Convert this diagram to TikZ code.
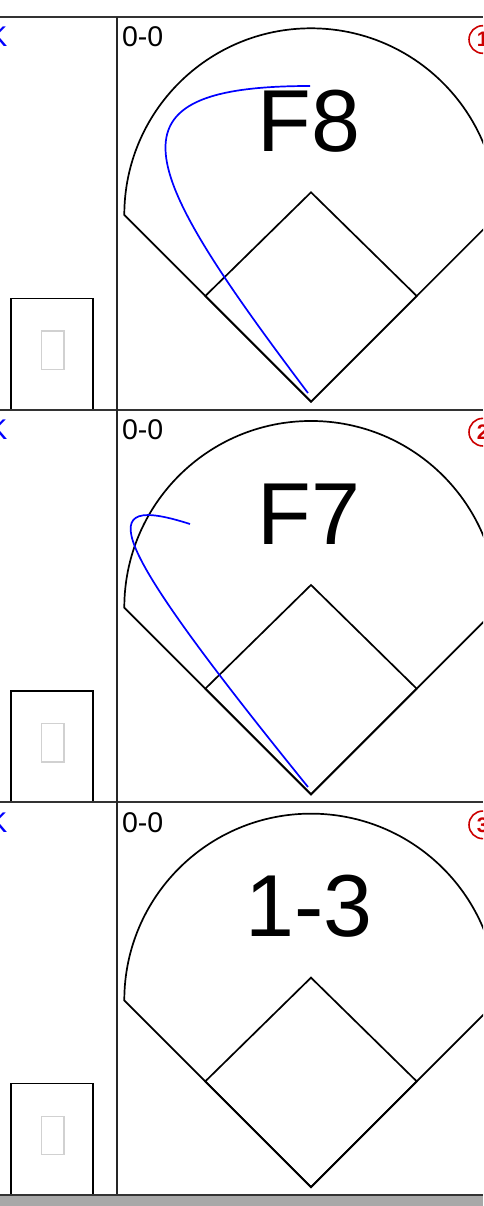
\documentclass[tikz,border=0pt]{standalone}
\usepackage{fontspec}
\setmainfont{Liberation Sans}
\begin{document}
\begin{tikzpicture}[x=1pt,y=-1pt,
  rowline/.style={draw=black!80,line width=2pt},
  sepline/.style={draw=black!85,line width=1.7pt},
  fieldline/.style={draw=black,line width=1.7pt,line join=miter},
  hitpath/.style={draw=blue,line width=1.7pt},
  scoretext/.style={inner sep=0pt,anchor=base west,font=\fontsize{28.5}{30}\selectfont},
  ktext/.style={inner sep=0pt,anchor=base east,text=blue,font=\fontsize{28.5}{30}\selectfont},
  playtext/.style={inner sep=0pt,anchor=base,font=\fontsize{88}{90}\selectfont},
  numcircle/.style={circle,draw=red!80!black,line width=1.6pt,minimum size=27.6pt,inner sep=0pt,
     text=red!80!black,font=\fontsize{21}{22}\selectfont\bfseries},
  cardbox/.style={draw=black,line width=1.6pt},
  tofubox/.style={draw=black!18,line width=1.5pt}]
\useasboundingbox (0,0) rectangle (483,1206);
\clip (0,0) rectangle (483,1206);
\fill[white] (0,0) rectangle (483,1206);

\foreach \i/\play/\num in {0/F8/1,1/F7/2,2/1-3/3}{
  \begin{scope}[shift={(0,17+392.67*\i)}]
    % texts
    \node[ktext] (k\i) at (7.5,30) {K};
    \node[scoretext] (score\i) at (121.8,30) {0-0};
    \node[numcircle] (num\i) at (482.8,22.5) {\num};
    \node[playtext] (play\i) at (309,134.5) {\play};
    % small card
    \draw[cardbox] (10.7,392.67) -- (10.7,281.3) -- (92.7,281.3) -- (92.7,392.67);
    \draw[tofubox] (41.3,314) rectangle (64,352.3);
    % field
    \coordinate (home\i) at (311,384.7);
    \coordinate (first\i) at (416.7,279);
    \coordinate (second\i) at (311,175.3);
    \coordinate (third\i) at (205.3,279);
    \coordinate (lf\i) at (124.3,198);
    \coordinate (rf\i) at (497.7,198);
    \draw[fieldline] (lf\i) arc[start angle=180,end angle=0,radius=186.7pt] -- (home\i) -- cycle;
    \draw[fieldline] (home\i) -- (first\i) -- (second\i) -- (third\i) -- cycle;
  \end{scope}
}

% hit paths
\coordinate (h0s) at (308,393);
\coordinate (h0e) at (310,86);
\draw[hitpath] (h0s) .. controls (136,165) and (100,86) .. (h0e);
\coordinate (h1s) at (308,787);
\coordinate (h1e) at (190,524);
\draw[hitpath] (h1s) .. controls (100.4,530.6) and (94.8,493.7) .. (h1e);

% grid lines
\foreach \i in {0,1,2}{
  \draw[rowline] (0,17+392.67*\i) -- (483,17+392.67*\i);
}
\draw[sepline] (116.7,17) -- (116.7,1195);
\fill[black!34] (0,1195) rectangle (483,1206);
\draw[rowline] (0,1195) -- (483,1195);
\end{tikzpicture}
\end{document}
